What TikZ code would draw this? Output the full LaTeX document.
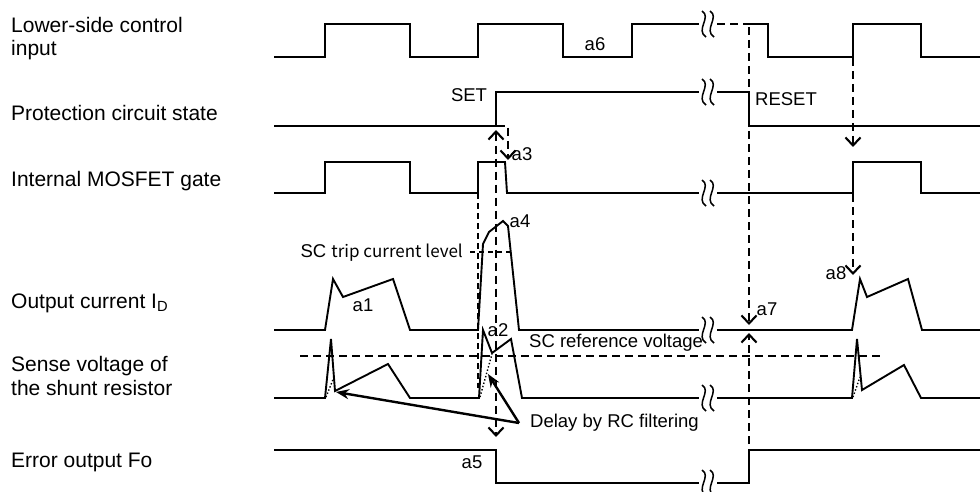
\documentclass[tikz,border=0pt]{standalone}
\usepackage{fontspec}
\setmainfont{Liberation Sans}
\newfontfamily\jpfont{Noto Sans CJK JP}
\usetikzlibrary{arrows.meta}

\tikzset{
  wave/.style={line width=1.9pt},
  guide/.style={line width=2.1pt, dash pattern=on 8pt off 5pt},
  thinguide/.style={line width=1.4pt, dash pattern=on 6pt off 4pt},
  side/.style={anchor=base west, inner sep=0pt, align=left, font=\fontsize{21}{23.5}\selectfont},
  lbl/.style={inner sep=0pt, font=\fontsize{18.5}{22}\selectfont},
  brk/.pic={
    \fill[white] (0,-3) rectangle (18,3);
    \draw[line width=1.5pt] (3,-13) .. controls (13,-7) and (-4,6) .. (7,13);
    \draw[line width=1.5pt] (11,-13) .. controls (21,-7) and (4,6) .. (15,13);
  }
}

\begin{document}
\begin{tikzpicture}[x=1pt, y=-1pt, >={Straight Barb[length=8pt,width=15pt]}]
  \useasboundingbox (0,0) rectangle (980,492);

  % signal names
  \node[side] (lowin) at (11,56) {Lower-side control\\input};
  \node[side] (prot) at (11,121) {Protection circuit state};
  \node[side] (gate) at (11,186) {Internal MOSFET gate};
  \node[side] (iout) at (11,308) {Output current I\textsubscript{D}};
  \node[side] (sense) at (11,395) {Sense voltage of\\the shunt resistor};
  \node[side] (fo) at (11,467) {Error output Fo};


  % lower-side control input
  \draw[wave] (274,57) -- (325,57) -- (325,24) -- (410,24) -- (410,57) -- (478,57) -- (478,24)
     -- (563,24) -- (563,57) -- (632,57) -- (632,24) -- (699,24);
  \draw[guide] (717,24) -- (749,24);
  \draw[wave] (749,24) -- (768,24) -- (768,57) -- (853,57) -- (853,24) -- (921,24) -- (921,57) -- (980,57);

  % protection circuit state
  \draw[wave] (274,126) -- (496,126) -- (496,92) -- (749,92) -- (749,126) -- (980,126);

  % internal gate
  \draw[wave] (274,193) -- (325,193) -- (325,162) -- (410,162) -- (410,193) -- (478,193) -- (478,162)
     -- (505,162) -- (507,193) -- (853,193) -- (853,162) -- (921,162) -- (921,193) -- (980,193);

  % output current
  \draw[wave] (274,330) -- (325,330) -- (333,279) -- (343,297) -- (393,279) -- (410,330)
     -- (478,330) -- (483,244) -- (489,232) -- (503,221) -- (508,226) -- (519,330)
     -- (852,330) -- (860,279) -- (867,297) -- (908,279) -- (922,330) -- (980,330);
  \draw[wave, dash pattern=on 5pt off 4pt] (470,252) -- (510,252);

  % sense voltage
  \draw[wave] (274,398) -- (325,398) -- (331,339) -- (335,391) -- (388,364) -- (410,398)
     -- (479,398) -- (483,330) -- (492,353) -- (511,339) -- (522,398)
     -- (852,398) -- (857,339) -- (862,390) -- (904,365) -- (921,398) -- (980,398);
  \draw[line width=1.4pt, dotted] (326,397) -- (334,377);
  \draw[line width=1.4pt, dotted] (480,397) -- (492,354);
  \draw[line width=1.4pt, dotted] (853,397) -- (860,377);
  \draw[guide] (300,356) -- (882,356);

  % error output
  \draw[wave] (274,450) -- (496,450) -- (496,483) -- (749,483) -- (749,450) -- (980,450);

  % breaks
  \foreach \y in {24,92,193,330,398,483}
    \pic at (699,\y) {brk};


  % timing guides
  \draw[thinguide] (478,193) -- (478,388);
  \draw[guide, <->] (496,130) -- (496,437);
  \draw[guide, ->] (497,126) -- (508,126) -- (508,160);
  \draw[guide, ->] (749,27) -- (749,325);
  \draw[guide, ->] (749,483) -- (749,333);
  \draw[guide, ->] (853,58) -- (853,147);
  \draw[guide, ->] (853,194) -- (853,275);

  \node[lbl, anchor=west] (delay) at (530,423) {Delay by RC filtering};
  \draw[line width=2.4pt, -{Stealth[length=13pt,width=10pt]}] (delay.west) ++(-11,0) coordinate (dl) -- (336,392);
  \draw[line width=2.4pt, -{Stealth[length=13pt,width=10pt]}] (dl) -- (488,374);


  % labels
  \node[lbl] (a6) at (595,44) {a6};
  \node[lbl] (set) at (469,95) {SET};
  \node[lbl] (reset) at (786,99) {RESET};
  \node[lbl] (a3) at (522,154) {a3};
  \node[lbl] (a4) at (520,221) {a4};
  \node[lbl, anchor=east] (trip) at (463,253) {SC {\jpfont\fontsize{17}{20}\selectfont trip current level}};
  \node[lbl] (a1) at (363,305) {a1};
  \node[lbl] (a8) at (836,273) {a8};
  \node[lbl] (a7) at (767,309) {a7};
  \node[lbl] (a2) at (498,330) {a2};
  \node[lbl, anchor=west] (scref) at (529,343) {SC reference voltage};
  \node[lbl] (a5) at (472,462) {a5};

\end{tikzpicture}
\end{document}
